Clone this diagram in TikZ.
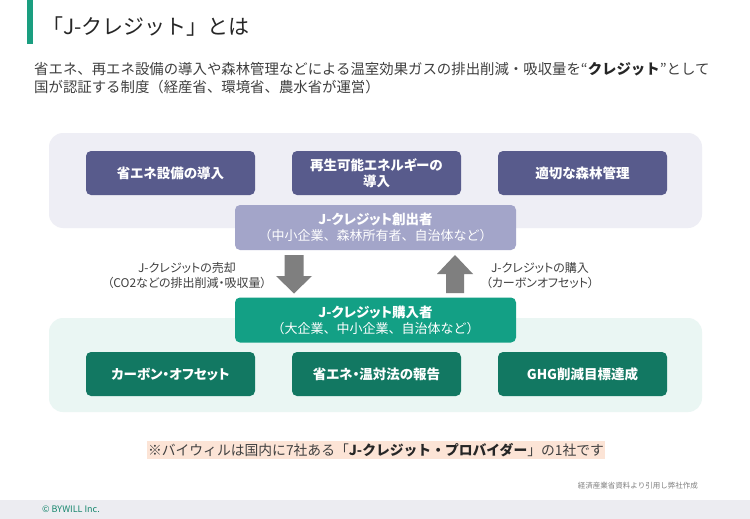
\documentclass[tikz,border=0pt]{standalone}
\usepackage{fontspec}
\setmainfont{Noto Sans CJK JP}
\newfontfamily\paltfont[RawFeature=+palt]{Noto Sans CJK JP}
\definecolor{barGreen}{HTML}{1A9E80}
\definecolor{panelGray}{HTML}{EEEEF5}
\definecolor{panelGreen}{HTML}{EAF6F3}
\definecolor{purpleBox}{HTML}{585B8C}
\definecolor{lavBox}{HTML}{A3A5C9}
\definecolor{tealBox}{HTML}{13A085}
\definecolor{darkGreen}{HTML}{127862}
\definecolor{arrowGray}{HTML}{7F7F7F}
\definecolor{peach}{HTML}{FCE4D6}
\definecolor{footGray}{HTML}{ECECF1}
\definecolor{textGray}{HTML}{404040}
\begin{document}
\begin{tikzpicture}[x=1pt,y=-1pt,
  box/.style={rounded corners=5pt, minimum width=169pt, minimum height=44pt, text=white, font=\paltfont\bfseries\fontsize{13.5}{15.5}\selectfont, align=center, inner sep=0pt},
  midbox/.style={rounded corners=5pt, minimum width=281pt, minimum height=45pt, text=white, font=\paltfont\bfseries\fontsize{13.5}{16}\selectfont, align=center, inner sep=0pt},
  lbl/.style={text=textGray, font=\paltfont\fontsize{12}{15}\selectfont, align=center, inner sep=0pt},
  fatarrow/.style={fill=arrowGray, draw=none}
]
\useasboundingbox (0,0) rectangle (750,519);
\fill[white] (0,0) rectangle (750,519);
% header
\fill[barGreen] (27,0) rectangle (33,44);
\node[anchor=west, inner sep=0pt, font=\fontsize{21}{25}\selectfont, text=black!85] (title) at (42,27) {「J-クレジット」とは};
\node[anchor=north west, inner sep=0pt, align=left, font=\fontsize{14.4}{18.5}\selectfont, text=textGray] (sub) at (34,62) {省エネ、再エネ設備の導入や森林管理などによる温室効果ガスの排出削減・吸収量を“{\bfseries\color{black!85}クレジット}”として\\国が認証する制度（経産省、環境省、農水省が運営）};
% panels
\fill[panelGray, rounded corners=14pt] (49,133) rectangle (702,228);
\fill[panelGreen, rounded corners=14pt] (49,318) rectangle (702,412);
% top boxes
\node[box, fill=purpleBox] (b1) at (170.5,173) {省エネ設備の導入};
\node[box, fill=purpleBox] (b2) at (376.5,173) {再生可能エネルギーの\\導入};
\node[box, fill=purpleBox] (b3) at (582.5,173) {適切な森林管理};
\node[midbox, fill=lavBox] (creator) at (375.5,227.5) {J-クレジット創出者\\{\rmfamily\mdseries\fontsize{13}{16}\selectfont（中小企業、森林所有者、自治体など）}};
\node[midbox, fill=tealBox] (buyer) at (375.5,320) {J-クレジット購入者\\{\rmfamily\mdseries\fontsize{13}{16}\selectfont（大企業、中小企業、自治体など）}};
% arrows
\coordinate (dn) at (294,255);
\coordinate (upc) at (455,255);
\fill[fatarrow] (dn) ++(-9.5,0) -- ++(19,0) -- ++(0,21) -- ++(8.5,0) -- ++(-18,17.5) -- ++(-18,-17.5) -- ++(8.5,0) -- cycle;
\fill[fatarrow] (upc) -- ++(18,19) -- ++(-9,0) -- ++(0,19) -- ++(-18,0) -- ++(0,-19) -- ++(-9,0) -- cycle;
\node[lbl] (sell) at (187,276) {J-クレジットの売却\\（CO2などの排出削減・吸収量）};
\node[lbl] (buy) at (540,276) {J-クレジットの購入\\（カーボンオフセット）};
% bottom boxes
\node[box, fill=darkGreen] (g1) at (170.5,374) {カーボン・オフセット};
\node[box, fill=darkGreen] (g2) at (376.5,374) {省エネ・温対法の報告};
\node[box, fill=darkGreen] (g3) at (582.5,374) {GHG削減目標達成};
% note
\node[fill=peach, inner xsep=1pt, inner ysep=2pt, font=\fontsize{13.8}{15}\selectfont, text=textGray] (note) at (376,450) {※バイウィルは国内に7社ある「{\bfseries\color{black!85}J-クレジット・プロバイダー}」の1社です};
\node[anchor=east, inner sep=0pt, font=\fontsize{7.5}{9}\selectfont, text=black!50] (src) at (698,486) {経済産業省資料より引用し弊社作成};
% footer
\fill[footGray] (0,500) rectangle (750,519);
\node[anchor=west, inner sep=0pt, font=\fontsize{9}{11}\selectfont, text=barGreen!85!black] (copy) at (42,509) {© BYWILL Inc.};
\end{tikzpicture}
\end{document}
